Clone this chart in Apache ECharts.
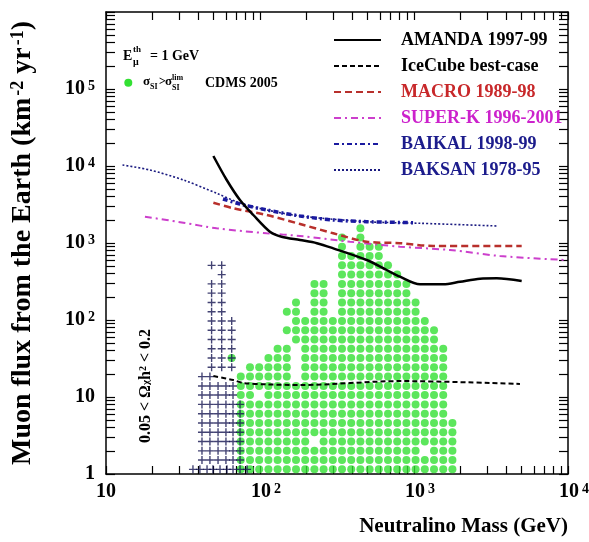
<!DOCTYPE html>
<html>
<head>
<meta charset="utf-8">
<script src="https://cdn.jsdelivr.net/npm/echarts@6/dist/echarts.min.js"></script>
<style>
  html, body { margin: 0; padding: 0; background: #fff; }
  #main { width: 589px; height: 542px; }
</style>
</head>
<body>
<div id="main"></div>
<script>
const FONT = '"Liberation Serif", "Times New Roman", serif';

// limit curves: [neutralino mass (GeV), muon flux (km^-2 yr^-1)]
const amanda = [[49.8, 13490], [60.8, 6580], [74.1, 3616], [90.5, 2311], [116, 1402], [138, 1208],
  [182, 1094], [234, 995], [299, 853], [493, 601], [665, 446], [811, 365], [1094, 291],
  [1549, 291], [1990, 314], [2685, 344], [3447, 348], [5003, 321]];
const icecube = [[49.8, 18.7], [67.1, 16.6], [77.9, 15.2], [110, 14.6], [182, 14.3], [811, 16.1], [4876, 14.8]];
const macro = [[49.8, 3337], [67.1, 2823], [110.5, 2311], [182, 1766], [299, 1336], [493, 1040],
  [811, 995], [1334, 914], [5003, 914]];
const superk = [[17.9, 2197], [31.8, 1836], [52.3, 1552], [110.5, 1336], [182, 1233], [384, 1040],
  [811, 896], [1714, 811], [3614, 678], [9700, 601]];
const baikal = [[57.5, 3727], [74.1, 3209], [110.5, 2685], [182, 2243], [299, 1990], [493, 1890], [988, 1836]];
const baksan = [[12.8, 10300], [19.3, 8870], [31.8, 6580], [52.3, 4420], [74.1, 3306], [110.5, 2685],
  [182, 2243], [493, 1890], [1094, 1803], [3508, 1663]];

// flux levels of the model scan rows
const fluxRows = [1.15, 1.52, 2.0, 2.64, 3.49, 4.6, 6.07, 8.02, 10.6, 13.9, 18.4, 24.3, 32.1, 42.3,
  55.8, 73.6, 97.1, 128, 169, 223, 294, 389, 513, 676, 893, 1178, 1554];

// green models (sigma_SI > CDMS 2005 limit): mass columns and row runs [from, to]
const cdmsMass = [65.4, 75.0, 86.1, 98.8, 113.4, 130.1, 149.3, 171.3, 196.6, 225.6, 258.8, 297,
  340.8, 391.1, 448.7, 514.9, 590.8, 678, 778, 892.7, 1024, 1175, 1349, 1548, 1776];
const cdmsRuns = [
  [[12, 12]], [[0, 10]], [[0, 11]], [[0, 7], [9, 11]], [[0, 12]], [[0, 13]],
  [[0, 13], [15, 15], [17, 17]], [[0, 9], [14, 18]], [[0, 16]], [[0, 2], [4, 20]], [[0, 20]],
  [[0, 16]], [[0, 25]], [[0, 23]], [[0, 26]], [[0, 24]], [[0, 24]], [[0, 22]], [[0, 21]],
  [[0, 20]], [[0, 18]], [[0, 1], [3, 16]], [[0, 15]], [[0, 13]], [[0, 5]]
];

// blue crosses (0.05 < relic density < 0.2)
const relicMass = [36.7, 40.7, 42.0, 45.3, 47.3, 48.5, 49.5, 53.4, 55.0, 56.4, 60.1, 61.0, 65.5, 66.8, 74.2, 82.4];
const relicRuns = [
  [[0, 0]], [[0, 0]], [[1, 10]], [[0, 0]], [[1, 10]], [[11, 20], [22, 22]], [[0, 0]], [[1, 9]],
  [[0, 0]], [[11, 22]], [[1, 9]], [[0, 0]], [[11, 16]], [[0, 9]], [[0, 7]], [[0, 0]]
];

// tick labels at the decades
const xLabelVals = [10, 100, 1000, 10000];
const yLabelVals = [1, 10, 100, 1000, 10000, 100000];

// ticks: decades plus 2..9 in each decade
const xTicks = [], yTicks = [];
for (let d = 10; d < 1e4; d *= 10) for (let i = 1; i <= 9; i++) xTicks.push(i * d);
xTicks.push(1e4);
for (let d = 1; d < 1e6; d *= 10) for (let i = 1; i <= 9; i++) yTicks.push(i * d);
yTicks.push(1e6);

function gridPoints(mass, runs) {
  const pts = [];
  mass.forEach((m, c) => {
    runs[c].forEach(([a, b]) => {
      for (let j = a; j <= b; j++) pts.push([m, fluxRows[j]]);
    });
  });
  return pts;
}

const bold = { fontFamily: FONT, fontWeight: 'bold', color: '#000' };

function expOf(v) { return Math.round(Math.log10(v)); }

const xRich = {
  p: { ...bold, fontSize: 20, lineHeight: 20, verticalAlign: 'bottom', padding: [7.5, 0, 0, 0] },
  b: { ...bold, fontSize: 20, lineHeight: 20, verticalAlign: 'bottom', padding: [0, 0, 0, 12] },
  s: { ...bold, fontSize: 14, lineHeight: 14, verticalAlign: 'top', padding: [0, 0, 13.5, 3] }
};
const yRich = {
  p: { ...bold, fontSize: 20, lineHeight: 20 },
  b: { ...bold, fontSize: 20, lineHeight: 20, verticalAlign: 'bottom' },
  s: { ...bold, fontSize: 14, lineHeight: 14, verticalAlign: 'top', padding: [0, 0, 11, 3] }
};

function xFmt(v) {
  const e = expOf(v);
  if (e === 1) return '{p|10}';
  return '{b|10}{s|' + e + '}';
}
function yFmt(v) {
  const e = expOf(v);
  if (e === 0) return '{p|1}';
  if (e === 1) return '{p|10}';
  if (e >= 6) return '';
  return '{b|10}{s|' + e + '}';
}

// one log axis per side of the frame, ticks pointing inwards
function frameAxis(dim, pos, min, max, ticks, labels) {
  const ax = {
    type: 'log', min: min, max: max, position: pos,
    axisLine: { show: true, onZero: false, lineStyle: { color: '#000', width: 1.5 } },
    splitLine: { show: false },
    axisTick: { show: true, inside: true, length: dim === 'x' ? 8 : 9,
      lineStyle: { color: '#000', width: 1.2 }, customValues: ticks },
    axisLabel: { show: false }
  };
  if (labels) {
    ax.axisLabel = dim === 'x'
      ? { show: true, margin: 8, formatter: xFmt, rich: xRich, customValues: labels }
      : { show: true, margin: 11, formatter: yFmt, rich: yRich, customValues: labels };
  }
  return ax;
}

const xAxes = [
  frameAxis('x', 'bottom', 10, 10000, xTicks, xLabelVals),
  frameAxis('x', 'top', 10, 10000, xTicks, null)
];
const yAxes = [
  frameAxis('y', 'left', 1, 1e6, yTicks, yLabelVals),
  frameAxis('y', 'right', 1, 1e6, yTicks, null)
];

yAxes[0].name = '{b|Muon flux from the Earth (km}{s|-2}{b| yr}{s|-1}{b|)}';
yAxes[0].nameLocation = 'middle';
yAxes[0].nameGap = 69;
yAxes[0].nameTextStyle = {
  rich: {
    b: { ...bold, fontSize: 28, lineHeight: 28, verticalAlign: 'bottom' },
    s: { ...bold, fontSize: 18, lineHeight: 18, verticalAlign: 'top', padding: [0, 0, 16, 2] }
  }
};

function curve(name, data, color, width, type) {
  return {
    name: name, type: 'line', data: data, smooth: 0.3, symbol: 'none', showSymbol: false, silent: true, z: 5,
    lineStyle: { color: color, width: width, type: type }, itemStyle: { color: color }
  };
}

const legendText = (name, color) => ({ name: name, textStyle: { color: color } });

const chart = echarts.init(document.getElementById('main'));
chart.setOption({
  animation: false,
  backgroundColor: '#fff',
  title: {
    text: 'Neutralino Mass (GeV)', right: 21, top: 516, padding: 0,
    textStyle: { ...bold, fontSize: 21, lineHeight: 22 }
  },
  grid: { left: 106, right: 21, top: 12, bottom: 68, outerBoundsMode: 'none' },
  xAxis: xAxes,
  yAxis: yAxes,
  legend: {
    orient: 'vertical', left: 333, top: 30, padding: 0, itemGap: 6,
    itemWidth: 47, itemHeight: 14, selectedMode: false,
    itemStyle: { color: 'transparent', borderColor: 'transparent', borderWidth: 0 },
    textStyle: { ...bold, fontSize: 18, lineHeight: 20, padding: [0, 0, 0, 15] },
    data: [
      legendText('AMANDA 1997-99', '#000'),
      legendText('IceCube best-case', '#000'),
      legendText('MACRO 1989-98', '#c8282a'),
      legendText('SUPER-K 1996-2001', '#cc22cc'),
      legendText('BAIKAL 1998-99', '#1c1c8c'),
      legendText('BAKSAN 1978-95', '#1c1c8c')
    ]
  },
  series: [
    {
      name: 'CDMS 2005', type: 'scatter', data: gridPoints(cdmsMass, cdmsRuns),
      symbol: 'circle', symbolSize: 8, silent: true, z: 2,
      itemStyle: { color: '#33e033' }
    },
    {
      name: 'relic', type: 'scatter', data: gridPoints(relicMass, relicRuns),
      symbol: 'path://M-1.2,-7H1.2V-1.2H7V1.2H1.2V7H-1.2V1.2H-7V-1.2H-1.2Z', symbolSize: 8, symbolKeepAspect: true,
      silent: true, z: 3, itemStyle: { color: '#141450' }
    },
    curve('BAKSAN 1978-95', baksan, '#1a1a80', 1.6, [2, 2]),
    curve('SUPER-K 1996-2001', superk, '#cc3fcc', 2, [7, 4, 2, 4]),
    curve('MACRO 1989-98', macro, '#b8302c', 2.5, [7, 4]),
    curve('BAIKAL 1998-99', baikal, '#1a1aa0', 3.5, [5, 3, 2, 3]),
    curve('IceCube best-case', icecube, '#000', 2, [5, 3]),
    curve('AMANDA 1997-99', amanda, '#000', 2.5, 'solid')
  ],
  graphic: [
    { type: 'text', x: 123, y: 56, style: { text: 'E', fontFamily: FONT, fontWeight: 'bold', fontSize: 14, fill: '#000', verticalAlign: 'middle' } },
    { type: 'text', x: 133, y: 50, style: { text: 'th', fontFamily: FONT, fontWeight: 'bold', fontSize: 9, fill: '#000', verticalAlign: 'middle' } },
    { type: 'text', x: 133, y: 62, style: { text: 'μ', fontFamily: FONT, fontWeight: 'bold', fontSize: 10, fill: '#000', verticalAlign: 'middle' } },
    { type: 'text', x: 150, y: 56, style: { text: '= 1 GeV', fontFamily: FONT, fontWeight: 'bold', fontSize: 14, fill: '#000', verticalAlign: 'middle' } },
    { type: 'circle', shape: { cx: 128.3, cy: 82.7, r: 4 }, style: { fill: '#33e033' } },
    { type: 'text', x: 143, y: 82, style: { text: 'σ', fontFamily: FONT, fontWeight: 'bold', fontSize: 13, fill: '#000', verticalAlign: 'middle' } },
    { type: 'text', x: 150, y: 87, style: { text: 'SI', fontFamily: FONT, fontWeight: 'bold', fontSize: 8, fill: '#000', verticalAlign: 'middle' } },
    { type: 'text', x: 159, y: 82, style: { text: '>', fontFamily: FONT, fontWeight: 'bold', fontSize: 12, fill: '#000', verticalAlign: 'middle' } },
    { type: 'text', x: 165, y: 82, style: { text: 'σ', fontFamily: FONT, fontWeight: 'bold', fontSize: 13, fill: '#000', verticalAlign: 'middle' } },
    { type: 'text', x: 172, y: 78, style: { text: 'lim', fontFamily: FONT, fontWeight: 'bold', fontSize: 8, fill: '#000', verticalAlign: 'middle' } },
    { type: 'text', x: 172, y: 88, style: { text: 'SI', fontFamily: FONT, fontWeight: 'bold', fontSize: 8, fill: '#000', verticalAlign: 'middle' } },
    { type: 'text', x: 205, y: 83, style: { text: 'CDMS 2005', fontFamily: FONT, fontWeight: 'bold', fontSize: 14, fill: '#000', verticalAlign: 'middle' } },
    {
      type: 'text', x: 146, y: 386, rotation: Math.PI / 2,
      style: {
        text: '{a|0.05 < Ω}{sub|χ}{a|h}{sup|2}{a| < 0.2}',
        align: 'center', verticalAlign: 'middle', fill: '#000',
        rich: {
          a: { fontFamily: FONT, fontWeight: 'bold', fontSize: 16, lineHeight: 16, verticalAlign: 'middle' },
          sub: { fontFamily: FONT, fontWeight: 'bold', fontSize: 11, lineHeight: 11, verticalAlign: 'bottom', padding: [0, 0, 2, 0] },
          sup: { fontFamily: FONT, fontWeight: 'bold', fontSize: 10, lineHeight: 10, verticalAlign: 'top', padding: [0, 0, 14, 0] }
        }
      }
    }
  ]
});
</script>
</body>
</html>
